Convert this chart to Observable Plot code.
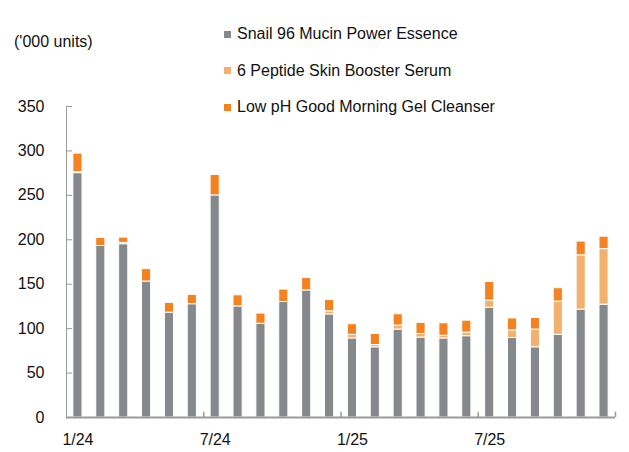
<!DOCTYPE html>
<html><head><meta charset="utf-8">
<script src="https://cdn.jsdelivr.net/npm/d3@7"></script>
<script src="https://cdn.jsdelivr.net/npm/@observablehq/plot@0.6"></script>
<style>
body{margin:0;background:#fff;}
#wrap{position:relative;width:629px;height:452px;font-family:"Liberation Sans",Arial,sans-serif;color:#111;}
#unit{position:absolute;left:14px;top:32px;font-size:16px;line-height:20px;}
#legend{position:absolute;left:224px;top:16px;font-size:16px;}
.item{display:flex;align-items:center;height:36.5px;white-space:nowrap;}
.sw{width:7px;height:7px;margin-right:6px;flex:none;}
</style></head><body>
<div id="wrap"><div id="chart"></div><div id="unit">('000 units)</div><div id="legend"></div></div>
<script>
const months = ["1/24","2/24","3/24","4/24","5/24","6/24","7/24","8/24","9/24","10/24","11/24","12/24",
                "1/25","2/25","3/25","4/25","5/25","6/25","7/25","8/25","9/25","10/25","11/25","12/25"];
const seriesNames = ["Snail 96 Mucin Power Essence","6 Peptide Skin Booster Serum","Low pH Good Morning Gel Cleanser"];
const seriesColors = ["#86898b","#f2b26e","#f58220"];
const snail    = [275,193,195,153,118,127.5,250,125,105.5,130,143,116,89,79,99,90,89,91.5,123.5,89.5,79,93,121.5,127];
const serum    = [1,0,1.5,0,0,0,0,0,0,0,0,3.5,4,2.5,4.5,4,3,4,8,8.5,20,37.5,61,62.5];
const cleanser = [21,9,6,14,11,10.5,23,12.5,11.5,14,14,12.8,12,12.5,12.7,12.5,14,13.5,21,13.5,13,15,15.5,14];
const xLabels = ["1/24","7/24","1/25","7/25"];
const yTicks = [0,50,100,150,200,250,300,350];

const values = [snail, serum, cleanser];
const data = [];
months.forEach((m, i) => values.forEach((arr, s) => data.push({month: m, series: seriesNames[s], value: arr[i]})));

const W = 629, H = 452, ML = 66, MR = 14, MT = 106, MB = 35;
const step = (W - ML - MR) / months.length;

const chart = Plot.plot({
  width: W, height: H,
  marginLeft: ML, marginRight: MR, marginTop: MT, marginBottom: MB,
  style: {fontFamily: "Liberation Sans, Arial, sans-serif", fontSize: "16px", color: "#111", background: "#fff"},
  x: {type: "band", domain: months, paddingInner: 0.6, paddingOuter: 0.3, round: false, label: null},
  y: {domain: [0, 350], label: null},
  color: {domain: seriesNames, range: seriesColors},
  marks: [
    Plot.barY(data, {x: "month", y: "value", fill: "series", stroke: "white", strokeWidth: 1}),
    Plot.frame({anchor: "left", stroke: "#9a9a9a"}),
    Plot.axisY({ticks: yTicks, tickSize: 0, tickPadding: 22, fontSize: 16, fill: "#111"}),
    Plot.axisY({ticks: yTicks, tickSize: -6, text: null, stroke: "#9a9a9a"}),
    Plot.ruleY([0], {stroke: "#9a9a9a", strokeWidth: 2}),
    Plot.ruleX(["7/24","1/25","7/25"], {x: d => d, y1: 0, y2: 6, dx: -step/2, stroke: "#9a9a9a", strokeWidth: 1.5}),
    Plot.ruleX(["12/25"], {x: d => d, y1: 0, y2: 6, dx: step/2, stroke: "#9a9a9a", strokeWidth: 1.5}),
    Plot.axisX({ticks: xLabels, tickSize: 0, tickPadding: 16, fontSize: 16, fill: "#111"})
  ]
});
document.getElementById("chart").appendChild(chart);

const legend = document.getElementById("legend");
seriesNames.forEach((n, i) => {
  const d = document.createElement("div");
  d.className = "item";
  d.innerHTML = `<span class="sw" style="background:${seriesColors[i]}"></span><span>${n}</span>`;
  legend.appendChild(d);
});
</script>
</body></html>
